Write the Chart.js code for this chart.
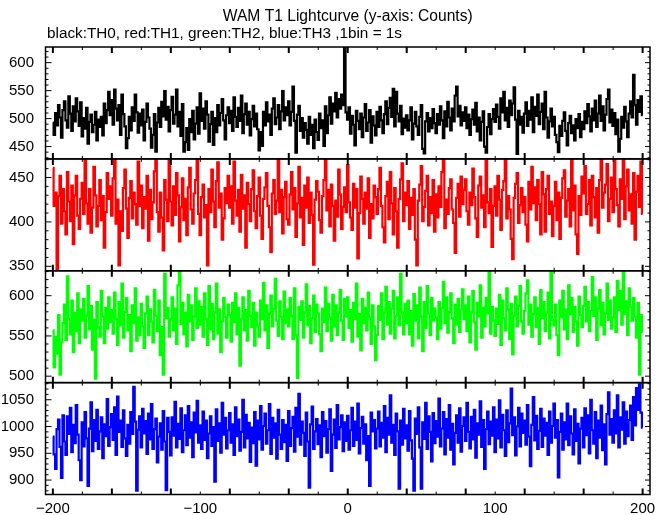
<!DOCTYPE html>
<html>
<head>
<meta charset="utf-8">
<script src="https://cdn.jsdelivr.net/npm/chart.js@4.4.1/dist/chart.umd.min.js"></script>
<style>
html, body { margin: 0; padding: 0; background: #ffffff; }
#wrap { position: relative; width: 669px; height: 515px; }
</style>
</head>
<body>
<div id="wrap"><canvas id="c" width="669" height="515"></canvas></div>
<script>
const TITLE = 'WAM T1 Lightcurve (y-axis: Counts)';
const SUBTITLE = 'black:TH0, red:TH1, green:TH2, blue:TH3 ,1bin = 1s';
const seriesNames = ['TH0', 'TH1', 'TH2', 'TH3'];
const binStart = -200;   // time of first 1 s bin
const xTickLabels = [-200, -100, 0, 100, 200];
const yTickLabels0 = [450, 500, 550, 600];
const yTickLabels1 = [350, 400, 450];
const yTickLabels2 = [500, 550, 600];
const yTickLabels3 = [900, 950, 1000, 1050];

const th0 = [
493,471,510,488,524,502,466,515,531,497,484,540,509,478,522,495,536,513,487,529,
468,501,482,519,455,494,507,476,489,512,461,498,485,503,470,527,492,515,548,506,
533,489,552,518,497,524,471,543,508,486,447,465,503,479,520,496,543,511,475,509,
488,516,461,494,527,502,482,448,471,508,441,493,519,485,530,504,549,498,521,477,
515,539,491,507,552,486,512,469,526,441,458,483,444,499,476,514,463,491,520,473,
545,496,518,482,531,507,459,490,512,453,501,476,524,488,510,535,497,463,506,520,
492,514,478,538,503,485,519,496,541,474,508,527,489,512,470,499,523,486,509,481,
443,476,451,512,488,529,495,507,471,518,536,490,502,524,481,513,549,497,520,506,
531,488,512,557,496,439,507,523,478,501,466,492,480,455,503,471,489,447,498,476,
462,509,483,497,451,522,474,506,538,491,527,513,546,502,535,518,543,524,650,511,
498,520,473,505,489,452,514,496,481,509,467,502,526,478,493,515,457,504,488,470,
512,485,521,497,474,508,531,490,519,537,503,553,486,548,509,495,523,472,500,484,
506,479,497,520,463,491,512,486,471,503,524,446,438,495,510,477,501,483,517,492,
474,508,489,522,497,465,513,486,530,502,479,518,495,541,557,504,523,488,511,496,
520,483,507,471,499,516,489,528,477,502,461,494,513,450,439,485,508,472,499,517,
494,525,503,482,536,511,548,497,519,485,532,506,527,556,498,437,514,489,503,475,
509,529,487,514,498,538,476,521,505,543,490,512,527,481,548,502,466,495,518,486,
503,471,458,440,487,469,496,511,478,452,492,505,474,488,461,499,483,508,467,494,
481,513,492,526,504,477,518,497,532,485,509,541,496,522,479,507,535,552,493,516,
487,510,472,498,441,464,503,484,521,495,467,509,531,502,578,524,489,533,512,540,
506];

const th1 = [
461,418,433,347,429,452,398,437,412,386,456,423,401,441,375,430,452,407,392,426,
444,409,471,421,398,437,388,416,462,430,395,418,447,402,429,371,411,455,426,440,
407,449,471,398,425,351,412,390,438,459,415,382,427,446,404,433,420,397,468,418,
441,393,428,415,452,379,436,403,422,457,470,411,389,433,405,368,447,425,401,471,
423,396,440,408,455,430,378,417,449,402,426,385,439,461,414,398,432,447,471,409,
385,428,442,405,419,351,437,411,459,423,394,446,467,416,432,380,404,438,421,452,
416,440,398,468,424,407,436,389,453,415,430,371,444,420,401,437,458,412,393,429,
450,407,381,426,439,455,418,394,366,432,447,409,424,471,411,436,387,428,445,403,
397,431,456,414,438,383,421,462,405,427,374,441,416,450,399,433,408,352,425,446,
434,402,388,429,447,470,413,436,395,442,418,379,424,406,459,431,392,417,439,411,
464,422,405,391,443,416,437,359,410,451,426,398,433,415,449,382,420,404,441,428,
409,437,461,418,394,377,429,445,403,456,421,386,438,412,371,426,448,466,401,433,
419,446,392,427,408,437,380,351,424,442,463,401,417,435,452,396,428,410,447,389,
431,405,440,417,456,471,393,425,409,438,448,414,399,365,427,443,406,451,420,436,
448,412,397,433,419,460,428,404,383,441,451,416,430,394,469,422,410,437,372,418,
440,407,452,425,391,436,446,471,404,429,414,381,358,427,443,455,399,419,438,411,
428,397,378,445,414,462,421,439,402,447,420,386,456,431,389,437,452,409,423,384,
418,445,402,433,381,427,449,458,406,424,437,395,471,413,441,386,364,429,408,451,
432,463,409,420,447,396,452,428,405,438,388,447,471,416,433,442,465,401,426,450,
411,470,437,419,395,448,426,471,403,440,459,413,431,398,455,380,434,452,417,468,
409];

const th2 = [
557,511,549,528,576,502,542,566,589,545,624,571,552,594,530,579,556,603,541,583,
569,596,548,575,612,558,587,533,570,497,592,561,549,606,574,541,585,559,598,567,
582,553,604,571,539,592,563,615,548,580,597,557,576,531,588,566,609,544,573,551,
590,562,535,578,599,551,583,568,542,607,575,556,594,526,561,502,627,572,585,549,
571,598,557,584,540,613,634,565,591,552,579,537,601,568,588,545,574,609,560,593,
564,586,549,603,571,539,612,558,590,546,579,615,553,583,530,568,597,574,548,589,
576,543,591,567,603,552,585,513,571,598,557,582,544,606,575,561,591,538,579,563,
549,594,571,616,557,588,535,577,600,562,584,621,569,550,593,574,546,605,566,583,
562,597,575,546,609,551,498,586,570,593,548,579,614,563,587,541,572,600,555,589,
578,552,531,584,567,610,556,590,573,544,601,562,588,551,579,607,569,545,596,574,
598,560,582,543,591,571,615,549,577,532,596,566,585,557,604,573,540,588,562,520,
551,587,570,603,546,579,611,564,592,553,584,606,547,575,598,563,627,579,552,590,
566,594,552,581,538,602,569,588,547,610,574,531,592,560,612,578,551,597,569,584,
573,546,592,559,585,617,566,598,554,580,603,572,541,589,564,596,555,583,608,571,
588,556,599,542,579,606,567,533,591,574,613,548,585,562,597,578,632,553,586,569,
550,584,565,601,539,594,572,557,609,583,546,590,527,575,599,562,587,612,568,553,
581,603,619,564,589,549,577,598,561,585,540,607,572,592,556,579,604,547,631,570,
563,589,551,526,594,573,606,558,583,546,613,577,597,555,586,568,538,599,576,561,
587,611,568,592,556,581,623,575,598,545,584,607,563,591,552,578,615,570,594,559,
573,598,555,618,582,606,564,634,577,593,551,609,586,569,597,574,548,591,502,576,
555];

const th3 = [
981,948,921,995,1013,962,904,1021,972,947,1019,986,1035,952,1003,969,1040,985,937,900,
1008,963,1027,978,889,996,1045,954,1012,973,1031,958,991,1017,941,1004,982,1051,964,999,
1023,975,1036,947,1056,990,1011,962,1030,978,945,1003,968,1027,986,1074,1009,880,994,1019,
961,1033,987,1010,949,1024,976,1042,958,995,1015,933,981,1006,957,1029,972,881,1016,990,
946,1017,983,1046,961,1005,977,1034,952,993,1021,965,1038,979,1008,943,1026,989,1048,970,
1002,958,1028,975,1011,941,987,1019,964,999,897,1032,973,1006,951,1044,985,1016,959,993,
1025,970,1004,947,1036,982,1013,955,990,1050,961,1022,978,1007,934,998,969,1027,927,1011,
976,1038,957,1001,1024,968,993,1042,949,1016,979,1006,940,1031,985,958,1012,971,1003,936,
1029,964,997,1018,953,1035,981,1061,966,1009,988,945,1026,972,886,1004,1037,958,991,1014,
967,1002,943,1027,982,1010,951,995,1032,917,985,1013,960,1040,976,999,1021,954,1008,973,
1020,957,993,1035,964,1009,975,1043,950,997,1018,968,1004,937,982,889,1026,991,1012,959,
996,1028,963,1007,979,1038,952,1016,985,1058,970,1003,947,1024,991,884,1011,966,1033,978,
1002,955,1029,974,940,880,1015,986,1036,961,884,1008,977,1044,958,1019,990,935,1025,969,
1010,981,1052,963,996,1027,948,1014,979,1040,957,1005,929,988,1021,970,1034,953,1001,1017,
973,1044,990,959,1018,976,1031,942,1006,985,1047,962,1012,921,995,1028,967,1009,983,1036,
952,1013,978,1049,961,1022,993,945,1030,971,1006,1071,984,1017,946,1000,1035,963,1024,988,
1011,966,1040,981,926,1003,1055,974,1020,958,992,1033,962,1015,983,1007,947,1028,970,1001,
1043,979,1012,905,990,1024,957,1008,976,1043,965,1019,987,948,1032,973,1005,931,996,1016,
961,1034,984,1021,950,1050,993,968,1027,941,1011,979,1039,956,1004,929,1023,1064,985,1014,
970,1030,987,1058,961,1017,994,1045,968,1028,982,1012,1039,975,1055,1002,1072,1031,1079,1026,
998];

// ---- chart configuration ----
const series = [th0, th1, th2, th3];
const yTickSets = [yTickLabels0, yTickLabels1, yTickLabels2, yTickLabels3];
const colors = ['#000000', '#ff0000', '#00ff00', '#0000ff'];
const yLimits = [[428, 628], [345, 471], [492, 631], [873, 1082]];
const FONT = "'Liberation Sans', Arial, Helvetica, sans-serif";

Chart.defaults.font.family = FONT;
Chart.defaults.font.size = 15;
Chart.defaults.color = '#000000';

const datasets = series.map((s, i) => ({
  label: seriesNames[i],
  data: s.map((v, j) => ({ x: binStart + j, y: v })),
  yAxisID: 'y' + i,
  borderColor: colors[i],
  borderWidth: 2.2,
  pointRadius: 0,
  stepped: 'middle',
  fill: false,
  clip: 0
}));

const scales = {
  x: {
    type: 'linear', min: -205, max: 205,
    grid: { display: false, drawTicks: false },
    border: { display: false },
    afterBuildTicks: ax => { ax.ticks = xTickLabels.map(v => ({ value: v })); },
    ticks: { autoSkip: false, maxRotation: 0, padding: 5,
      callback: v => String(v).replace('-', '\u2212') },
    afterFit: ax => { ax.height = 19.5; }
  }
};
yTickSets.forEach((t, i) => {
  scales['y' + i] = {
    type: 'linear', position: 'left', stack: 'panels', stackWeight: 1, weight: 4 - i,
    min: yLimits[i][0], max: yLimits[i][1],
    grid: { display: false, drawTicks: false },
    border: { display: false },
    afterBuildTicks: ax => { ax.ticks = t.map(v => ({ value: v })); },
    ticks: { autoSkip: false, crossAlign: 'near', padding: 11.5, callback: v => String(v) },
    afterFit: ax => { ax.width = 45.5; }
  };
});

const framePlugin = {
  id: 'frame',
  afterDatasetsDraw(chart) {
    const ctx = chart.ctx;
    const xs = chart.scales.x;
    const L = chart.chartArea.left, R = chart.chartArea.right;
    ctx.save();
    ctx.strokeStyle = '#000000';
    for (let i = 0; i < 4; i++) {
      const ys = chart.scales['y' + i];
      const T = ys.top, B = ys.bottom;
      ctx.lineWidth = 1.5;
      ctx.strokeRect(L, T, R - L, B - T);
      ctx.lineWidth = 1;
      for (let v = Math.ceil(ys.min / 10) * 10; v <= ys.max; v += 10) {
        const y = ys.getPixelForValue(v);
        const major = v % 50 === 0;
        ctx.beginPath();
        ctx.moveTo(L, y); ctx.lineTo(L + (major ? 6 : 3), y);
        ctx.moveTo(R, y); ctx.lineTo(R - (major ? 5 : 2.5), y);
        ctx.stroke();
      }
      for (let v = -200; v <= 200; v += 20) {
        const x = xs.getPixelForValue(v);
        const major = v % 40 === 0;
        ctx.lineWidth = major ? 2 : 1;
        const len = major ? 6 : 3;
        ctx.beginPath();
        ctx.moveTo(x, T); ctx.lineTo(x, T + len);
        ctx.moveTo(x, B); ctx.lineTo(x, B - len);
        ctx.stroke();
      }
    }
    ctx.restore();
  },
  afterDraw(chart) {
    const ctx = chart.ctx;
    const L = chart.chartArea.left, R = chart.chartArea.right;
    ctx.save();
    ctx.fillStyle = '#000000';
    ctx.textBaseline = 'middle';
    ctx.textAlign = 'center';
    ctx.font = '15.6px ' + FONT;
    ctx.fillText(TITLE, (L + R) / 2, 17);
    ctx.textAlign = 'left';
    ctx.font = '15.3px ' + FONT;
    ctx.fillText(SUBTITLE, 47, 34);
    ctx.restore();
  }
};

new Chart(document.getElementById('c'), {
  type: 'line',
  data: { datasets },
  options: {
    responsive: false,
    animation: false,
    devicePixelRatio: 1,
    layout: { padding: { top: 47, right: 19, left: 0, bottom: 0 } },
    plugins: { legend: { display: false }, tooltip: { enabled: false }, title: { display: false } },
    scales
  },
  plugins: [framePlugin]
});
</script>
</body>
</html>
